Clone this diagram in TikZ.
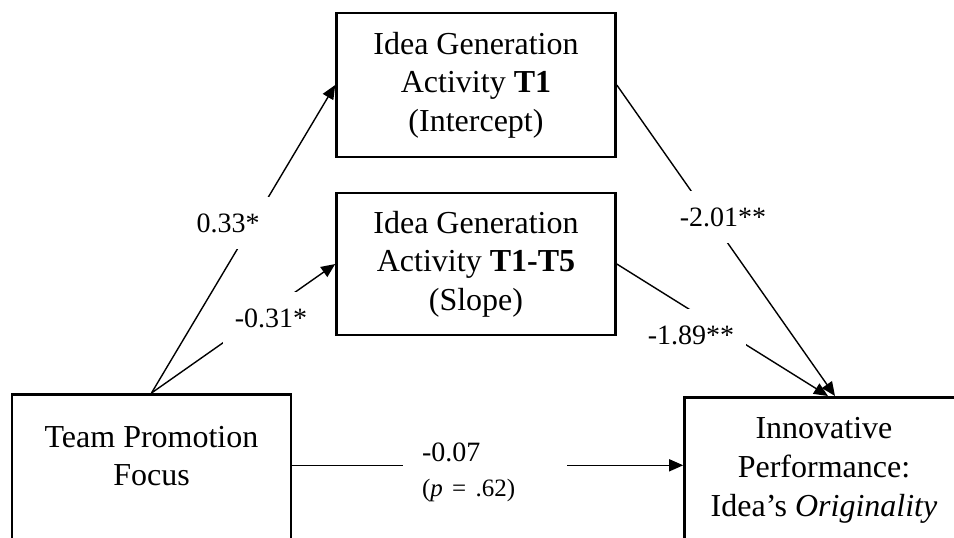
\documentclass[tikz,border=0pt]{standalone}
\usepackage{fontspec}
\setmainfont{Liberation Serif}
\usepackage{tikz}
\usetikzlibrary{arrows.meta,calc,positioning}

\tikzset{
  kasten/.style={draw,line width=1.3pt,minimum width=139.5pt,align=center,font=\fontsize{16}{19.3}\selectfont},
  pfeil/.style={line width=0.7pt,-{Triangle[length=7pt,width=6pt]}},
  koeff/.style={fill=white,inner xsep=6pt,inner ysep=8pt,font=\fontsize{14}{16}\selectfont}
}

\begin{document}
\begin{tikzpicture}[x=0.5pt,y=-0.5pt]
%Ausschnitt wie im Original, Kaesten unten/rechts abgeschnitten
\useasboundingbox (0,0) rectangle (954,537);
\clip (0,0) rectangle (954,537);
\node[kasten,minimum height=72pt] (igT1) at (476,85) {Idea Generation\\Activity \textbf{T1}\\(Intercept)};
\node[kasten,minimum height=71pt] (igSlope) at (476,264) {Idea Generation\\Activity \textbf{T1-T5}\\(Slope)};
\node[kasten,minimum height=100pt,anchor=north] (tpf) at (151.5,393) {};
\node[align=center,font=\fontsize{16}{19.3}\selectfont] (tpfText) at (151.5,456) {Team Promotion\\Focus};
\node[kasten,minimum height=73pt,anchor=north] (perf) at (824,396) {Innovative\\Performance:\\Idea's \textit{Originality}};
%Pfade
\draw[pfeil] (tpf.north) -- (igT1.west);
\draw[pfeil] (tpf.north) -- (igSlope.west);
\draw[pfeil] (igT1.east) -- ([xshift=5.5pt]perf.north);
\draw[pfeil] (igSlope.east) -- ([xshift=2pt]perf.north);
\draw[pfeil] ($(tpf.east |- perf.west)+(0,-5)$) -- ($(perf.west)+(0,-5)$);
%Koeffizienten
\node[koeff] (b1) at (228,223) {0.33*};
\node[koeff] (b2) at (271,318) {-0.31*};
\node[koeff] (b3) at (723,217) {-2.01**};
\node[koeff] (b4) at (691,335) {-1.89**};
\node[koeff,align=left,text width=63pt,inner xsep=9.5pt] (b5) at (485,472) {-0.07\\[1.5pt]{\fontsize{12.5}{14}\selectfont(\textit{p} = .62)}};
\end{tikzpicture}
\end{document}
